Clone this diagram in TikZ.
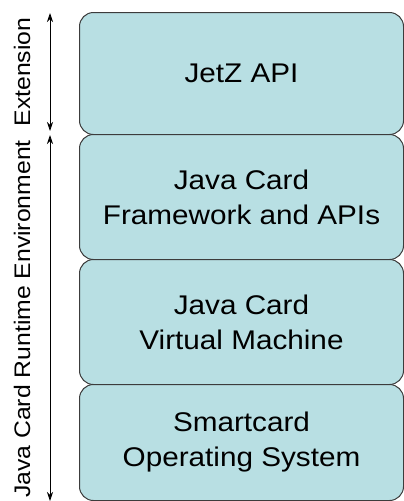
\documentclass[tikz,border=0pt]{standalone}
\usepackage{fontspec}
\setmainfont{Liberation Sans}
\newfontfamily\widesans[FakeStretch=1.1]{Liberation Sans}
\usetikzlibrary{arrows.meta}
\definecolor{boxfill}{RGB}{184,223,227}
\definecolor{boxline}{RGB}{60,60,60}
\begin{document}
\begin{tikzpicture}[x=1pt,y=-1pt,
  layer/.style={draw=boxline,fill=boxfill,line width=1pt,rounded corners=14pt,
    minimum width=324pt,inner sep=0pt,anchor=north west,align=center,
    font=\widesans\fontsize{27}{35}\selectfont},
  sidelabel/.style={rotate=90,inner sep=0pt,font=\widesans\fontsize{22.5}{26}\selectfont},
  span/.style={line width=0.8pt,{Stealth[length=9pt,width=6pt]}-{Stealth[length=9pt,width=6pt]}}]
\useasboundingbox (0,0) rectangle (404,501);
\node[layer,minimum height=122pt] (jetz) at (79,12) {JetZ API};
\node[layer,minimum height=125pt] (fw) at (79,134) {Java Card\\Framework and APIs};
\node[layer,minimum height=125pt] (vm) at (79,259) {Java Card\\Virtual Machine};
\node[layer,minimum height=116pt] (os) at (79,384) {Smartcard\\Operating System};
\coordinate (e1) at (50,13);
\coordinate (e2) at (50,131);
\coordinate (r1) at (50,135);
\coordinate (r2) at (50,501);
\draw[span] (e1) -- (e2);
\draw[span] (r1) -- (r2);
\node[sidelabel] (ext) at (22,72) {Extension};
\node[sidelabel] (jcre) at (22,319) {Java Card Runtime Environment};
\end{tikzpicture}
\end{document}
